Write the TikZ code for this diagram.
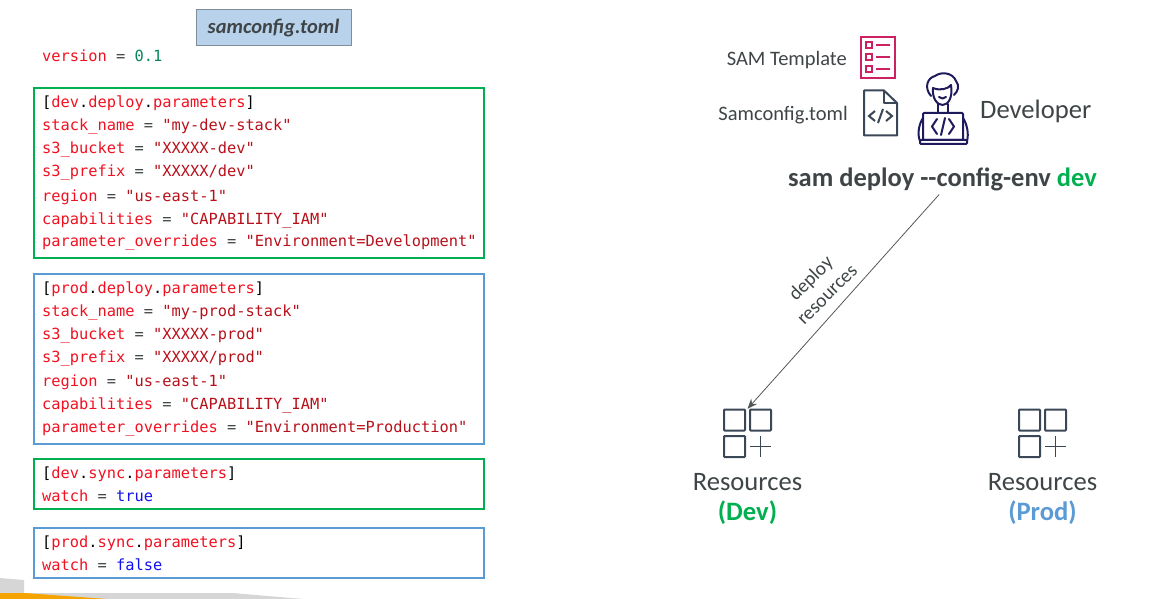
\documentclass[tikz,border=0pt]{standalone}
\usepackage{fontspec}
\setmainfont{Carlito}
\setmonofont{DejaVu Sans Mono}
\usetikzlibrary{arrows.meta}
\definecolor{ink}{HTML}{3F4547}
\definecolor{grn}{HTML}{00B050}
\definecolor{blu}{HTML}{5B9BD5}
\definecolor{kred}{HTML}{F01020}
\definecolor{sred}{HTML}{B8101A}
\definecolor{ngrn}{HTML}{098658}
\definecolor{tblue}{HTML}{1010F0}
\definecolor{hdr}{HTML}{B8D2EC}
\definecolor{hdrb}{HTML}{7F8C99}
\definecolor{pink}{HTML}{CC2264}
\definecolor{slate}{HTML}{3A4757}
\definecolor{navy}{HTML}{1E1A5C}
\definecolor{swoosh}{HTML}{D6D6D6}
\definecolor{orng}{HTML}{F5A300}
\newcommand{\K}[1]{\textcolor{kred}{#1}}
\newcommand{\Sv}[1]{\textcolor{sred}{#1}}
\newcommand{\Eq}{\textcolor{ink}{=}}
\newcommand{\Dt}{\textcolor{black}{.}}
\newcommand{\Br}[1]{\textcolor{black}{[}\K{#1}\textcolor{black}{]}}
\newcommand{\KV}[2]{\K{#1} \Eq{} \Sv{"#2"}}
\tikzset{
  code/.style={anchor=base west,inner sep=0pt,font=\ttfamily\fontsize{15.35}{18}\selectfont},
  cfg/.style={draw=#1,line width=2.2pt,fill=none,minimum width=450pt,anchor=north west,inner sep=0pt},
  lab/.style={inner sep=0pt,text=ink,font=\fontsize{#1}{#1}\selectfont},
  slatei/.style={draw=slate,line width=2pt,rounded corners=.8pt},
  devi/.style={draw=navy,line width=2pt,line cap=round,line join=round},
  flowarrow/.style={draw=ink!90,line width=.8pt,shorten <=5pt,-{Stealth[length=10pt,width=8pt]}}
}
\begin{document}
\begin{tikzpicture}[x=1pt,y=-1pt]
\useasboundingbox (0,0) rectangle (1160,599);
% corner decoration
\fill[swoosh] (0,578) -- (24,580) -- (24,593) -- (233,593) -- (303,599) -- (0,599) -- cycle;
\fill[orng] (0,593) -- (24,593) -- (107,599) -- (0,599) -- cycle;
% title
\node[draw=hdrb,line width=1pt,fill=hdr,minimum width=155pt,minimum height=36pt,inner sep=0pt,
      text=ink,font=\fontsize{20.5}{20.5}\selectfont\bfseries\itshape] (title) at (273.5,28) {samconfig.toml};
\node[code] (ver) at (42,62) {\K{version} \Eq{} \textcolor{ngrn}{0.1}};
% boxes
\node[cfg=grn,minimum height=170pt] (devbox) at (33,87) {};
\node[cfg=blu,minimum height=170pt] (prodbox) at (33,273) {};
\node[cfg=grn,minimum height=50pt] (devsync) at (33,458) {};
\node[cfg=blu,minimum height=50pt] (prodsync) at (33,527) {};
% dev
\node[code] (d1) at (42,108) {\Br{dev\Dt{}deploy\Dt{}parameters}};
\node[code] (d2) at (42,131) {\KV{stack\_name}{my-dev-stack}};
\node[code] (d3) at (42,154) {\KV{s3\_bucket}{XXXXX-dev}};
\node[code] (d4) at (42,177) {\KV{s3\_prefix}{XXXXX/dev}};
\node[code] (d5) at (42,201) {\KV{region}{us-east-1}};
\node[code] (d6) at (42,224) {\KV{capabilities}{CAPABILITY\_IAM}};
\node[code] (d7) at (42,247) {\KV{parameter\_overrides}{Environment=Development}};
% prod
\node[code] (p1) at (42,293) {\Br{prod\Dt{}deploy\Dt{}parameters}};
\node[code] (p2) at (42,316) {\KV{stack\_name}{my-prod-stack}};
\node[code] (p3) at (42,339) {\KV{s3\_bucket}{XXXXX-prod}};
\node[code] (p4) at (42,362) {\KV{s3\_prefix}{XXXXX/prod}};
\node[code] (p5) at (42,386) {\KV{region}{us-east-1}};
\node[code] (p6) at (42,409) {\KV{capabilities}{CAPABILITY\_IAM}};
\node[code] (p7) at (42,432) {\KV{parameter\_overrides}{Environment=Production}};
% sync
\node[code] (s1) at (42,478) {\Br{dev\Dt{}sync\Dt{}parameters}};
\node[code] (s2) at (42,501) {\K{watch} \Eq{} \textcolor{tblue}{true}};
\node[code] (t1) at (42,547) {\Br{prod\Dt{}sync\Dt{}parameters}};
\node[code] (t2) at (42,570) {\K{watch} \Eq{} \textcolor{tblue}{false}};
% right labels
\node[lab=20.5,anchor=east] (samt) at (847,60) {SAM Template};
\node[lab=20.5,anchor=east] (samc) at (848,115) {Samconfig.toml};
\node[lab=26.6,anchor=west] (devl) at (980,111) {Developer};
\node[lab=26.5,anchor=center,font=\fontsize{26.5}{26.5}\selectfont\bfseries] (cmd) at (942.5,179) {sam deploy -{}-config-env \textcolor{grn}{dev}};
% SAM template icon
\draw[pink,line width=2pt] (860.5,37) rectangle (895,78);
\foreach \yy in {45,57,69}{
  \draw[pink,line width=1.8pt] (866,\yy-3) rectangle (872,\yy+3);
  \draw[pink,line width=1.8pt] (876,\yy) -- (890,\yy);
}
% config file icon
\draw[slate,line width=2pt,line join=round] (864,90.5) -- (884,90.5) -- (897,103) -- (897,135.5) -- (864,135.5) -- cycle;
\draw[slate,line width=2pt,line join=round] (884,90.5) -- (884,103) -- (897,103);
\draw[slate,line width=2pt] (875,111) -- (869,116) -- (875,121);
\draw[slate,line width=2pt] (886,111) -- (892,116) -- (886,121);
\draw[slate,line width=2pt] (883,109) -- (878,123);
% developer icon
\draw[devi] (931,96) .. controls (924,88) and (927,78) .. (935,76) .. controls (942,71) and (953,73) .. (956,81) .. controls (960,86) and (958,91) .. (954,95);
\draw[devi] (933,88) .. controls (940,91) and (948,89) .. (951,85);
\draw[devi] (933,88) .. controls (932,98) and (937,105) .. (942.5,105) .. controls (948,105) and (953,98) .. (951,85);
\draw[devi] (939,97) .. controls (941,99) and (944,99) .. (946,97);
\draw[devi] (938,104) -- (938,113);
\draw[devi] (948,104) -- (948,113);
\draw[devi,rounded corners=1pt] (923,113) rectangle (963,140);
\draw[devi,rounded corners=1pt] (920,140) rectangle (967,144);
\draw[devi] (923,118) .. controls (919,124) and (917,134) .. (920,141);
\draw[devi] (963,118) .. controls (967,124) and (969,134) .. (967,141);
\draw[devi] (937,119) -- (932,126.5) -- (937,134);
\draw[devi] (949,119) -- (954,126.5) -- (949,134);
\draw[devi] (945,118) -- (941,135);
% resources
\node[inner sep=0pt,minimum width=46pt,minimum height=48pt] (rdev) at (747.5,433) {};
\node[inner sep=0pt,minimum width=46pt,minimum height=48pt] (rprod) at (1042.5,433) {};
\foreach \n in {rdev,rprod}{
  \draw[slatei] (\n.center) ++(-23.5,-23.5) rectangle ++(21,21);
  \draw[slatei] (\n.center) ++(2.5,-23.5) rectangle ++(21,21);
  \draw[slatei] (\n.center) ++(-23.5,3) rectangle ++(21,21);
  \draw[slate,line width=1.8pt] (\n.center) ++(2.5,13.5) -- ++(21,0);
  \draw[slate,line width=1.8pt] (\n.center) ++(13,3) -- ++(0,21);
}
\node[lab=26.6] (rdl) at (747.5,482) {Resources};
\node[lab=26.6] (rpl) at (1042.5,482) {Resources};
\node[inner sep=0pt,text=grn,font=\fontsize{26.6}{26.6}\selectfont\bfseries] (rdn) at (747.5,513) {(Dev)};
\node[inner sep=0pt,text=blu,font=\fontsize{26.6}{26.6}\selectfont\bfseries] (rpn) at (1042.5,513) {(Prod)};
% connector
\draw[flowarrow] (cmd.south) -- (rdev.north);
\node[rotate=45,inner sep=0pt,text=ink,align=center,font=\fontsize{19.5}{23}\selectfont] (dep) at (818.5,286) {deploy\\resources};
\end{tikzpicture}
\end{document}
